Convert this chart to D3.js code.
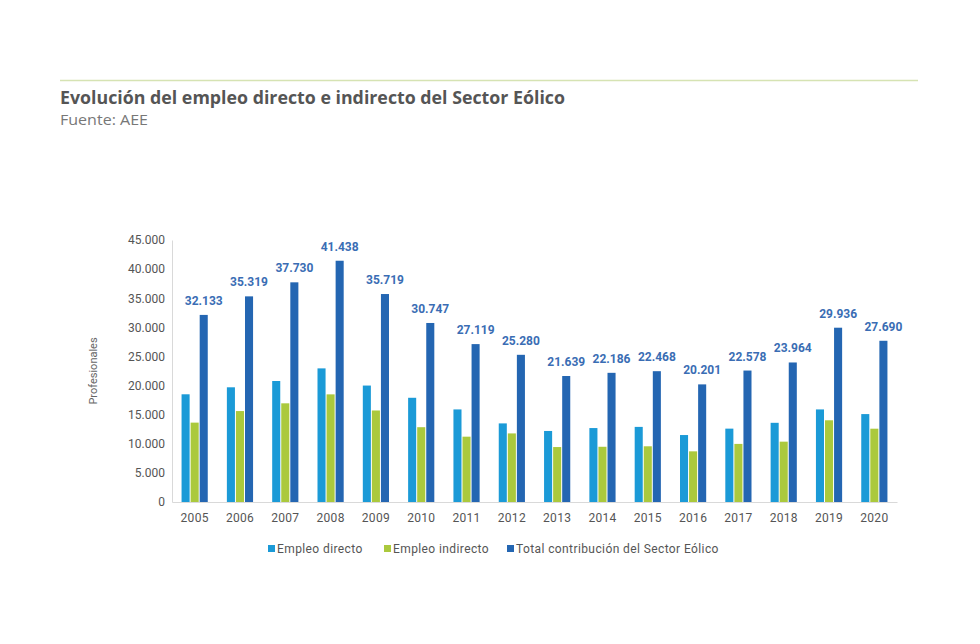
<!DOCTYPE html>
<html><head><meta charset="utf-8">
<script src="https://cdn.jsdelivr.net/npm/d3@7/dist/d3.min.js"></script>
<style>body{margin:0;background:#fff;}svg{display:block;}</style>
</head><body><svg id="c" width="980" height="644"></svg>
<script>
const years = ["2005","2006","2007","2008","2009","2010","2011","2012","2013","2014","2015","2016","2017","2018","2019","2020"];
const directo = [18500,19700,20781,22950,20000,17900,15900,13500,12200,12700,12900,11500,12600,13600,15900,15100];
const indirecto = [13633,15619,16949,18488,15719,12847,11219,11780,9439,9486,9568,8701,9978,10364,14036,12590];
const total = [32133,35319,37730,41438,35719,30747,27119,25280,21639,22186,22468,20201,22578,23964,29936,27690];
const seriesNames = ["Empleo directo","Empleo indirecto","Total contribución del Sector Eólico"];
const yTicks = [0,5000,10000,15000,20000,25000,30000,35000,40000,45000];
const colors = ["#1b9ad7","#abc93d","#2466b2"];

const loc = d3.formatLocale({decimal:",",thousands:".",grouping:[3],currency:["","€"]});
const fmt = loc.format(",d");

const svg = d3.select("#c");
const m = {l:172, r:897, t:240, b:502};

svg.append("line").attr("x1",60).attr("x2",918).attr("y1",80.5).attr("y2",80.5)
  .attr("stroke","#d6e3b3").attr("stroke-width",1.5);
svg.append("text").attr("x",60).attr("y",104).text("Evolución del empleo directo e indirecto del Sector Eólico")
  .attr("font-family","'Open Sans', sans-serif").attr("font-weight","bold").attr("font-size",17.5).attr("fill","#555")
  .attr("textLength",505).attr("lengthAdjust","spacingAndGlyphs");
svg.append("text").attr("x",60).attr("y",125).text("Fuente: AEE")
  .attr("font-family","'Open Sans', sans-serif").attr("font-size",14.5).attr("fill","#777")
  .attr("textLength",88).attr("lengthAdjust","spacingAndGlyphs");

const x = d3.scaleBand().domain(years).range([m.l, m.r]).paddingInner(0.4).paddingOuter(0.2);
const x1 = d3.scaleBand().domain([0,1,2]).range([0, x.bandwidth()]);
const y = d3.scaleLinear().domain([0,45000]).range([m.b, m.t]);

// axes
const ya = svg.append("g").attr("transform",`translate(${m.l},0)`)
  .call(d3.axisLeft(y).tickValues(yTicks).tickFormat(fmt).tickSize(0).tickPadding(7));
ya.select(".domain").attr("stroke","#d9d9d9");
ya.selectAll("text").attr("font-family","Roboto, sans-serif").attr("font-size",12).attr("fill","#555");

const xa = svg.append("g").attr("transform",`translate(0,${m.b})`)
  .call(d3.axisBottom(x).tickSize(0).tickPadding(11));
xa.select(".domain").attr("stroke","#d9d9d9");
xa.selectAll("text").attr("font-family","Roboto, sans-serif").attr("font-size",12).attr("fill","#555").attr("letter-spacing",0.3);

svg.append("text").attr("transform",`translate(97,${(m.t+m.b)/2}) rotate(-90)`)
  .attr("text-anchor","middle").text("Profesionales")
  .attr("font-family","Roboto, sans-serif").attr("font-size",11).attr("fill","#666");

const data = [directo, indirecto, total];
data.forEach((arr, si) => {
  svg.append("g").selectAll("rect").data(arr).join("rect")
    .attr("x",(d,i)=>x(years[i])+x1(si)+0.5)
    .attr("width",x1.bandwidth()-1)
    .attr("y",d=>y(d))
    .attr("height",d=>y(0)-y(d))
    .attr("fill",colors[si]);
});

svg.append("g").selectAll("text").data(total).join("text")
  .attr("x",(d,i)=>x(years[i])+x1(2)+x1.bandwidth()/2)
  .attr("y",d=>y(d)-10)
  .attr("text-anchor","middle")
  .text(d=>fmt(d))
  .attr("font-family","Roboto, sans-serif").attr("font-weight","bold").attr("font-size",12).attr("fill","#3a6db4");

// legend
const lg = svg.append("g");
const lx = [268, 384, 507];
seriesNames.forEach((n,i)=>{
  lg.append("rect").attr("x",lx[i]).attr("y",545).attr("width",7).attr("height",7).attr("fill",colors[i]);
  lg.append("text").attr("x",lx[i]+9).attr("y",552.5).text(n)
    .attr("font-family","Roboto, sans-serif").attr("font-size",12).attr("fill","#555").attr("letter-spacing",0.4);
});
</script></body></html>
